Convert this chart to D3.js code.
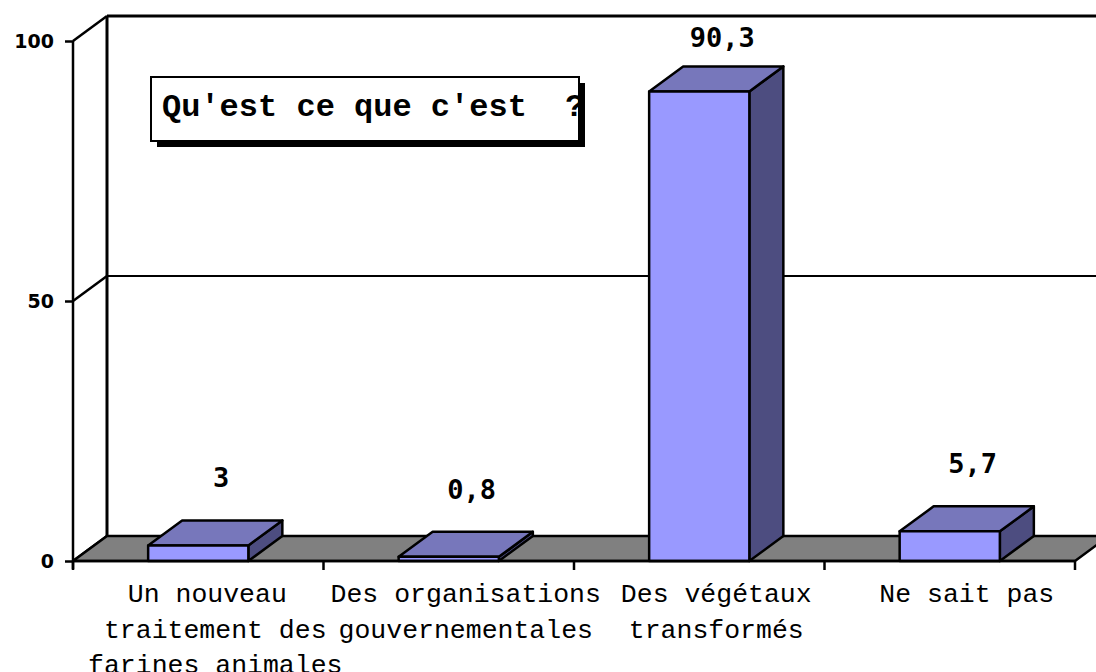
<!DOCTYPE html>
<html>
<head>
<meta charset="utf-8">
<script src="https://cdn.jsdelivr.net/npm/d3@7"></script>
<style>
  body { margin: 0; background: #fff; }
  svg { display: block; }
</style>
</head>
<body>
<div id="chart"></div>
<script>
// data
let categories = ["Un nouveau", "Des organisations", "Des végétaux", "Ne sait pas"];
let categoryLines = [
    ["Un nouveau ", "traitement des", "farines animales"],
    ["Des organisations", "gouvernementales"],
    ["Des végétaux", "transformés"],
    ["Ne sait pas"]
];
let values = [3, 0.8, 90.3, 5.7];
let valueLabels = ["3", "0,8", "90,3", "5,7"];
let yTicks = [0, 50, 100];
let title = "Qu'est ce que c'est  ?";

let W = 1096, H = 672;
let DX = 34, DY = -25;   // depth of the 3d effect

var svg = d3.select("#chart").append("svg")
    .attr("width", W)
    .attr("height", H);

var x = d3.scaleBand()
    .domain(categories)
    .range([73, 1075])
    .paddingInner(0)
    .paddingOuter(0);

var y = d3.scaleLinear()
    .domain([0, 100])
    .range([561, 41]);

let barW = x.bandwidth() * 0.4;
let x0 = x.range()[0], x1 = x.range()[1], y0 = y(0);

// back wall grid lines + left wall diagonals
let back = svg.append("g");
yTicks.forEach(function(v) {
    back.append("line")
        .attr("x1", x0 + DX)
        .attr("x2", W + 10)
        .attr("y1", y(v) + DY)
        .attr("y2", y(v) + DY)
        .attr("stroke", "#000")
        .attr("stroke-width", v === 100 ? 3 : 2);
    back.append("line")
        .attr("x1", x0)
        .attr("y1", y(v))
        .attr("x2", x0 + DX)
        .attr("y2", y(v) + DY)
        .attr("stroke", "#000")
        .attr("stroke-width", 2.5);
});
back.append("line")
    .attr("x1", x0 + DX)
    .attr("x2", x0 + DX)
    .attr("y1", y(100) + DY)
    .attr("y2", y0 + DY)
    .attr("stroke", "#000")
    .attr("stroke-width", 3);

// floor
svg.append("path")
    .attr("d", `M${x0},${y0} L${x0 + DX},${y0 + DY} L${x1 + DX},${y0 + DY} L${x1},${y0} Z`)
    .attr("fill", "#808080")
    .attr("stroke", "#000")
    .attr("stroke-width", 2.5)
    .attr("stroke-linejoin", "round");

// bars
let bars = svg.append("g").selectAll("g")
    .data(values)
    .join("g");

bars.each(function(v, i) {
    let g = d3.select(this);
    let bx = x(categories[i]) + (x.bandwidth() - barW) / 2;
    let top = y(v);
    g.append("path")
        .attr("d", `M${bx + barW},${top} L${bx + barW + DX},${top + DY} L${bx + barW + DX},${y0 + DY} L${bx + barW},${y0} Z`)
        .attr("fill", "#4d4d80");
    g.append("path")
        .attr("d", `M${bx},${top} L${bx + DX},${top + DY} L${bx + barW + DX},${top + DY} L${bx + barW},${top} Z`)
        .attr("fill", "#7777bb");
    g.append("rect")
        .attr("x", bx)
        .attr("y", top)
        .attr("width", barW)
        .attr("height", y0 - top)
        .attr("fill", "#9999ff");
    g.selectAll("path, rect")
        .attr("stroke", "#000")
        .attr("stroke-width", 2.5)
        .attr("stroke-linejoin", "round");
});

// front y axis
var yAxis = d3.axisLeft(y)
    .tickValues(yTicks)
    .tickSize(8)
    .tickPadding(11)
    .tickFormat(d3.format("d"));
let ya = svg.append("g")
    .attr("transform", `translate(${x0},0)`)
    .call(yAxis);
ya.select(".domain").remove();
ya.attr("font-size", 19).attr("font-family", "DejaVu Sans");
ya.selectAll(".tick line").attr("stroke", "#000").attr("stroke-width", 2.5);
ya.selectAll(".tick text")
    .attr("font-family", "DejaVu Sans")
    .attr("font-weight", "bold")
    .attr("font-size", 19)
    .attr("fill", "#000");
svg.append("line")
    .attr("x1", x0).attr("x2", x0)
    .attr("y1", y(100)).attr("y2", y0 + 8)
    .attr("stroke", "#000").attr("stroke-width", 2.5);

// front x axis
svg.append("line")
    .attr("x1", x0).attr("x2", x1)
    .attr("y1", y0).attr("y2", y0)
    .attr("stroke", "#000").attr("stroke-width", 2.5);
let bounds = categories.map(c => x(c)).concat([x1]);
svg.append("g").selectAll("line")
    .data(bounds)
    .join("line")
    .attr("x1", d => d).attr("x2", d => d)
    .attr("y1", y0).attr("y2", y0 + 9)
    .attr("stroke", "#000").attr("stroke-width", 2.5);

// category labels
svg.append("g").selectAll("text")
    .data(categoryLines)
    .join("text")
    .attr("text-anchor", "middle")
    .attr("font-family", "Liberation Mono")
    .attr("font-size", 26.5)
    .attr("fill", "#000")
    .style("white-space", "pre")
    .each(function(lines, i) {
        let cx = x(categories[i]) + x.bandwidth() / 2 + DX / 2;
        d3.select(this).selectAll("tspan")
            .data(lines)
            .join("tspan")
            .attr("x", cx)
            .attr("y", (d, k) => 602 + k * 35.5)
            .text(d => d);
    });

// value labels (kept inside the plot at the top)
svg.append("g").selectAll("text")
    .data(values)
    .join("text")
    .attr("x", (d, i) => x(categories[i]) + x.bandwidth() / 2 + DX / 2 + 6)
    .attr("y", d => Math.max(y(d) - 58, 47))
    .attr("text-anchor", "middle")
    .attr("font-family", "DejaVu Sans Mono")
    .attr("font-weight", "bold")
    .attr("font-size", 27)
    .attr("fill", "#000")
    .text((d, i) => valueLabels[i]);

// title box with shadow
let tb = { x: 151, y: 77, w: 428, h: 64 };
svg.append("defs").append("clipPath")
    .attr("id", "titleClip")
    .append("rect")
    .attr("x", tb.x).attr("y", tb.y)
    .attr("width", tb.w).attr("height", tb.h);
svg.append("rect")
    .attr("x", tb.x + 6).attr("y", tb.y + 6)
    .attr("width", tb.w).attr("height", tb.h)
    .attr("fill", "#000");
svg.append("rect")
    .attr("x", tb.x).attr("y", tb.y)
    .attr("width", tb.w).attr("height", tb.h)
    .attr("fill", "#fff")
    .attr("stroke", "#000")
    .attr("stroke-width", 2);
svg.append("text")
    .attr("clip-path", "url(#titleClip)")
    .attr("x", 162)
    .attr("y", 116)
    .attr("font-family", "Liberation Mono")
    .attr("font-weight", "bold")
    .attr("font-size", 32)
    .attr("fill", "#000")
    .style("white-space", "pre")
    .text(title);
</script>
</body>
</html>
